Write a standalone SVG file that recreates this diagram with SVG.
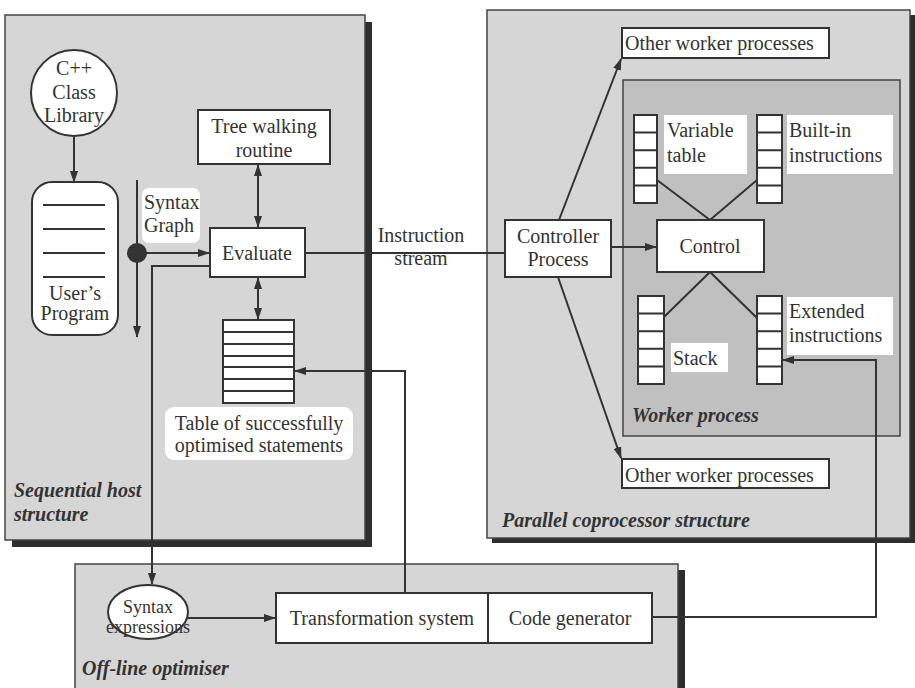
<svg xmlns="http://www.w3.org/2000/svg" width="915" height="688" viewBox="0 0 915 688">
<defs>
<marker id="ah" markerWidth="12" markerHeight="8" refX="11" refY="4" orient="auto-start-reverse" markerUnits="userSpaceOnUse">
<path d="M0,0 L12,4 L0,8 z" fill="#333"/>
</marker>
</defs>
<style>
text{font-family:"Liberation Serif","Times New Roman","DejaVu Serif",serif;font-size:20px;fill:#333}
.c{text-anchor:middle}
.lab{font-weight:bold;font-style:italic;font-size:20px}
.sm{font-size:18px}
.panel{fill:#d6d6d6;stroke:#444;stroke-width:1.5}
.shadow{fill:#2e2e2e}
.inner{fill:#c0c0c0;stroke:#444;stroke-width:1.5}
.box{fill:#fff;stroke:#333;stroke-width:2}
.wbg{fill:#fff;stroke:none}
.ln{fill:none;stroke:#333;stroke-width:2}
.arr{fill:none;stroke:#333;stroke-width:2;marker-end:url(#ah)}
.darr{fill:none;stroke:#333;stroke-width:2;marker-end:url(#ah);marker-start:url(#ah)}
</style>
<rect width="915" height="688" fill="#fff"/>

<g id="panel-host">
<rect class="shadow" x="12" y="22" width="360" height="525"/>
<rect class="panel" x="5" y="15" width="360" height="525"/>
<text class="lab" x="14" y="497">Sequential host</text>
<text class="lab" x="14" y="521">structure</text>
</g>

<g id="panel-parallel">
<rect class="shadow" x="492" y="15" width="423" height="528"/>
<rect class="panel" x="487" y="10" width="423" height="528"/>
<text class="lab" x="502" y="527">Parallel coprocessor structure</text>
</g>

<g id="panel-optimiser">
<rect class="shadow" x="82" y="570" width="603" height="130"/>
<rect class="panel" x="75" y="564" width="603" height="130"/>
<text class="lab" x="82" y="675">Off-line optimiser</text>
</g>

<g id="worker-process">
<rect class="inner" x="623" y="80" width="277" height="356"/>
<text class="lab" x="632" y="422">Worker process</text>
</g>

<g id="connectors">
<path class="arr" d="M74,137 L74,182"/>
<path class="arr" d="M137,180 L137,337"/>
<path class="arr" d="M137,253 L209,253"/>
<path class="darr" d="M258,165 L258,227"/>
<path class="darr" d="M258,278 L258,319"/>
<path class="arr" d="M210,266 L152,266 L152,584"/>
<path class="arr" d="M405,592 L405,371 L295,371"/>
<path class="ln" d="M305,253 L505,253"/>
<path class="arr" d="M611,247 L656,247"/>
<path class="arr" d="M559,220 L621,59"/>
<path class="arr" d="M558,277 L621,458"/>
<path class="ln" d="M657,180 L710,220 L757,180"/>
<path class="ln" d="M664,317 L710,272 L757,318"/>
<path class="arr" d="M652,617 L876,617 L876,360 L783,360"/>
<path class="arr" d="M188,618 L275,618"/>
<circle cx="137" cy="253" r="10" fill="#333"/>
</g>

<g id="instruction-stream">
<text class="c" x="421" y="242">Instruction</text>
<text class="c" x="421" y="265">stream</text>
</g>

<g id="cpp-library">
<circle cx="74" cy="93" r="43" fill="#fff" stroke="#333" stroke-width="2"/>
<text class="c" x="74" y="75">C++</text>
<text class="c" x="74" y="99">Class</text>
<text class="c" x="74" y="122">Library</text>
</g>

<g id="users-program">
<rect class="box" x="32" y="182" width="86" height="153" rx="20"/>
<path class="ln" stroke-width="1.5" d="M43,205 H105 M43,229 H105 M43,253 H105 M43,277 H105"/>
<text class="c" x="75" y="300">User’s</text>
<text class="c" x="75" y="320">Program</text>
</g>

<g id="syntax-graph">
<rect class="wbg" x="142" y="188" width="58" height="55" rx="7"/>
<text x="144" y="209">Syntax</text>
<text x="144" y="232">Graph</text>
</g>

<g id="tree-walking">
<rect class="box" x="198" y="110" width="132" height="54"/>
<text class="c" x="264" y="133">Tree walking</text>
<text class="c" x="264" y="157">routine</text>
</g>

<g id="evaluate">
<rect class="box" x="210" y="228" width="95" height="49"/>
<text class="c" x="257" y="260">Evaluate</text>
</g>

<g id="table">
<rect class="box" x="223" y="320" width="71" height="83"/>
<path class="ln" stroke-width="1.5" d="M223,332 H294 M223,344 H294 M223,356 H294 M223,367 H294 M223,379 H294 M223,391 H294"/>
<rect class="wbg" x="165" y="407" width="188" height="53" rx="9"/>
<text class="c" x="259" y="430">Table of successfully</text>
<text class="c" x="259" y="452">optimised statements</text>
</g>

<g id="controller-process">
<rect class="box" x="505" y="220" width="106" height="57"/>
<text class="c" x="558" y="243">Controller</text>
<text class="c" x="558" y="266">Process</text>
</g>

<g id="other-workers-top">
<rect class="box" x="622" y="28" width="207" height="30"/>
<text x="625" y="50">Other worker processes</text>
</g>

<g id="other-workers-bottom">
<rect class="box" x="622" y="459" width="207" height="29"/>
<text x="625" y="482">Other worker processes</text>
</g>

<g id="variable-table">
<rect class="box" x="634" y="115" width="23" height="88"/>
<path class="ln" stroke-width="1.5" d="M634,132.6 H657 M634,150.2 H657 M634,167.8 H657 M634,185.4 H657"/>
<rect class="wbg" x="664" y="115" width="83" height="59"/>
<text x="667" y="137">Variable</text>
<text x="667" y="162">table</text>
</g>

<g id="builtin-instructions">
<rect class="box" x="757" y="115" width="25" height="88"/>
<path class="ln" stroke-width="1.5" d="M757,132.6 H782 M757,150.2 H782 M757,167.8 H782 M757,185.4 H782"/>
<rect class="wbg" x="787" y="115" width="106" height="59"/>
<text x="789" y="137">Built-in</text>
<text x="789" y="162">instructions</text>
</g>

<g id="control">
<rect class="box" x="657" y="220" width="107" height="52"/>
<text class="c" x="710" y="253">Control</text>
</g>

<g id="stack">
<rect class="box" x="638" y="296" width="26" height="88"/>
<path class="ln" stroke-width="1.5" d="M638,313.6 H664 M638,331.2 H664 M638,348.8 H664 M638,366.4 H664"/>
<rect class="wbg" x="671" y="343" width="57" height="29"/>
<text x="673" y="365">Stack</text>
</g>

<g id="extended-instructions">
<rect class="box" x="757" y="296" width="25" height="88"/>
<path class="ln" stroke-width="1.5" d="M757,313.6 H782 M757,331.2 H782 M757,348.8 H782 M757,366.4 H782"/>
<rect class="wbg" x="787" y="297" width="106" height="58"/>
<text x="789" y="318">Extended</text>
<text x="789" y="342">instructions</text>
</g>

<g id="syntax-expressions">
<ellipse cx="148" cy="612" rx="40" ry="27" fill="#fff" stroke="#333" stroke-width="2"/>
<text class="c sm" x="148" y="613">Syntax</text>
<text class="c sm" x="148" y="633">expressions</text>
</g>

<g id="transformation-system">
<rect class="box" x="276" y="593" width="212" height="50"/>
<text class="c" x="382" y="625">Transformation system</text>
</g>

<g id="code-generator">
<rect class="box" x="488" y="593" width="164" height="50"/>
<text class="c" x="570" y="625">Code generator</text>
</g>
</svg>
